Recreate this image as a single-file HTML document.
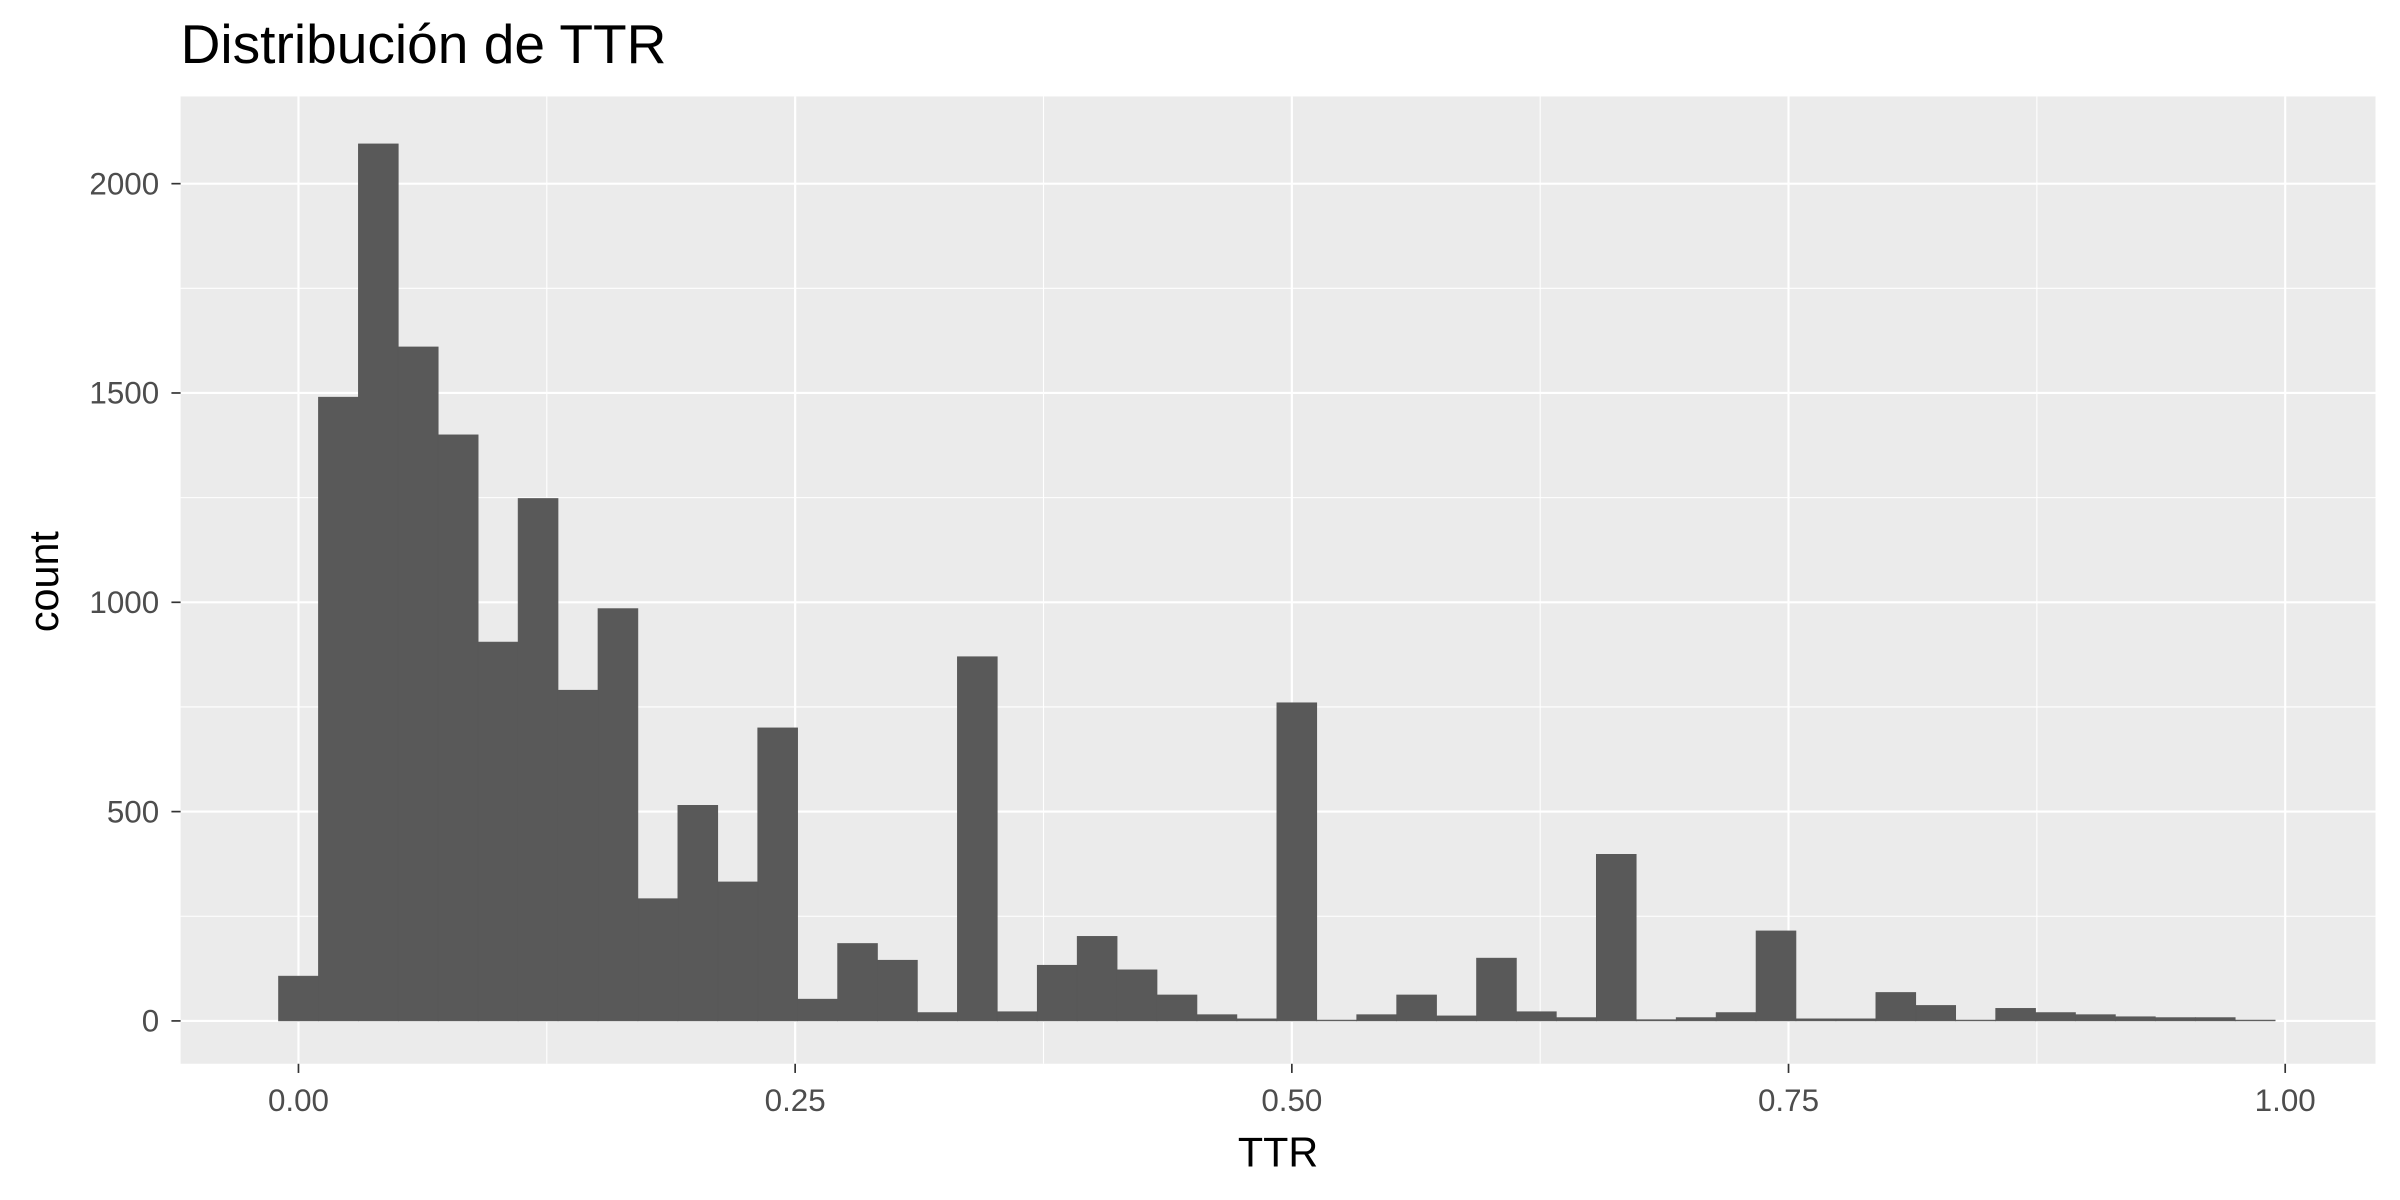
<!DOCTYPE html>
<html><head><meta charset="utf-8"><style>html,body{margin:0;padding:0;background:#fff}svg{display:block}</style></head>
<body>
<svg id="chart" width="2400" height="1200" viewBox="0 0 1568 784" xmlns="http://www.w3.org/2000/svg" font-family="Liberation Sans, sans-serif">
<rect width="1568" height="784" fill="#fff"/>
<text x="118" y="41" font-size="36" fill="#000">Distribución de TTR</text>
<rect x="118" y="63" width="1434" height="632" fill="#EBEBEB"/>
<g id="grid"></g>
<g id="bars"></g>
<g id="axes"></g>
<text x="835" y="762" font-size="27" text-anchor="middle" fill="#000">TTR</text>
<text transform="translate(38,380) rotate(-90)" font-size="27" text-anchor="middle" fill="#000">count</text>
</svg>
<script>
const binCenters = [0,1,2,3,4,5,6,7,8,9,10,11,12,13,14,15,16,17,18,19,20,21,22,23,24,25,26,27,28,29,30,31,32,33,34,35,36,37,38,39,40,41,42,43,44,45,46,47,48,49].map(k=>k*0.0201);
const counts = [107,1490,2095,1610,1400,905,1248,790,985,292,515,332,700,52,185,145,20,870,22,133,202,122,62,15,5,760,2,15,62,12,150,22,8,398,3,8,20,215,5,5,68,37,2,30,20,15,10,8,8,2];
const binWidth = 0.0201;
const xTicks = [0,0.25,0.5,0.75,1.0];
const xTickLabels = ["0.00","0.25","0.50","0.75","1.00"];
const yTicks = [0,500,1000,1500,2000];
const yTickLabels = ["0","500","1000","1500","2000"];
const NS="http://www.w3.org/2000/svg";
const X = v => 195 + v*1298;
const Y = v => 667 - v*0.2735;
const P = {l:118,r:1552,t:63,b:695};
function mk(tag, attrs, parent){const e=document.createElementNS(NS,tag);for(const k in attrs)e.setAttribute(k,attrs[k]);parent.appendChild(e);return e;}
const grid=document.getElementById('grid'), bars=document.getElementById('bars'), axes=document.getElementById('axes');
for(let i=0;i<yTicks.length-1;i++){const v=(yTicks[i]+yTicks[i+1])/2;const l=mk('line',{x1:P.l,x2:P.r,y1:Y(v),y2:Y(v),stroke:'#fff','stroke-width':0.7},grid);

}
for(let i=0;i<xTicks.length-1;i++){const v=(xTicks[i]+xTicks[i+1])/2;const l=mk('line',{x1:X(v),x2:X(v),y1:P.t,y2:P.b,stroke:'#fff','stroke-width':0.7},grid);

}
yTicks.forEach((v,i)=>{const l=mk('line',{x1:P.l,x2:P.r,y1:Y(v),y2:Y(v),stroke:'#fff','stroke-width':1.4},grid);


const t=mk('line',{x1:112,x2:118,y1:Y(v),y2:Y(v),stroke:'#333','stroke-width':1.1},axes);


const tx=mk('text',{x:104,y:Y(v)+7,'font-size':20.5,'text-anchor':'end',fill:'#4D4D4D'},axes);tx.textContent=yTickLabels[i];

});
xTicks.forEach((v,i)=>{const l=mk('line',{x1:X(v),x2:X(v),y1:P.t,y2:P.b,stroke:'#fff','stroke-width':1.4},grid);


const t=mk('line',{x1:X(v),x2:X(v),y1:695,y2:701,stroke:'#333','stroke-width':1.1},axes);


const tx=mk('text',{x:X(v),y:726,'font-size':20.5,'text-anchor':'middle',fill:'#4D4D4D'},axes);tx.textContent=xTickLabels[i];

});
binCenters.forEach((c,i)=>{const x0=X(c-binWidth/2),x1=X(c+binWidth/2),y=Y(counts[i]);
const r=mk('rect',{x:x0,y:y,width:x1-x0,height:Y(0)-y,fill:'#595959',stroke:'#595959','stroke-width':0.4},bars);

});
</script>
</body></html>
